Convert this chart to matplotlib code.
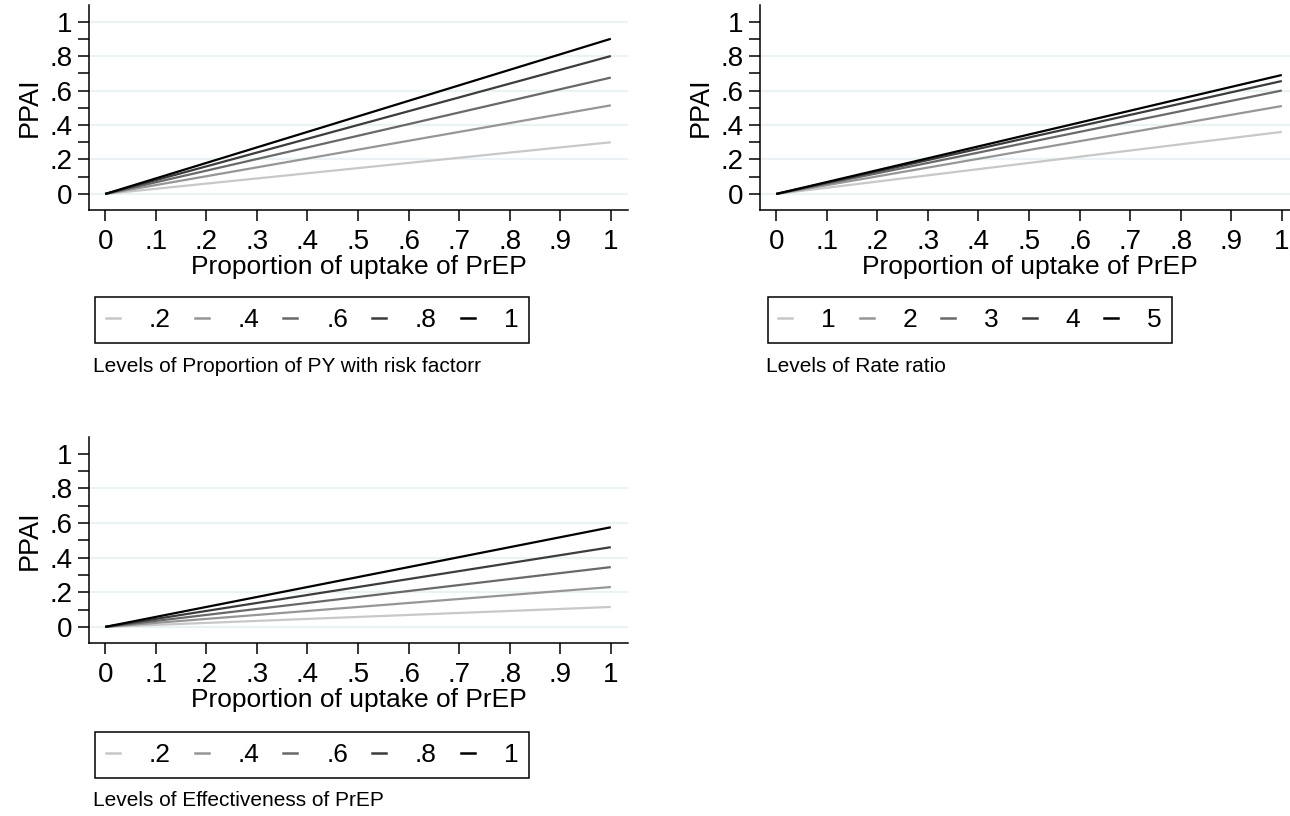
import matplotlib.pyplot as plt
from matplotlib.lines import Line2D

plt.rcParams['font.family'] = ['Liberation Sans', 'DejaVu Sans']

# uptake of PrEP runs from none to full
uptake = [0.0, 1.0]

# PPAI at full uptake for each level of the varied parameter
risk_levels = ['.2', '.4', '.6', '.8', '1']
ppai_risk = [0.30, 0.514, 0.675, 0.80, 0.90]

rr_levels = ['1', '2', '3', '4', '5']
ppai_rr = [0.36, 0.51, 0.60, 0.655, 0.69]

eff_levels = ['.2', '.4', '.6', '.8', '1']
ppai_eff = [0.115, 0.23, 0.345, 0.46, 0.575]

x_ticks = [0, .1, .2, .3, .4, .5, .6, .7, .8, .9, 1]
x_labels = ['0', '.1', '.2', '.3', '.4', '.5', '.6', '.7', '.8', '.9', '1']
y_ticks = [0, .2, .4, .6, .8, 1]
y_labels = ['0', '.2', '.4', '.6', '.8', '1']
y_minor = [.1, .3, .5, .7, .9]

greys = ['#c8c8c8', '#969696', '#696969', '#3c3c3c', '#000000']

W, H = 1290, 816
fig = plt.figure(figsize=(W / 100, H / 100), dpi=100)


def panel(left, top, right, bottom, ends, levels, grid, legend_box, note, note_xy):
    ax = fig.add_axes([left / W, 1 - bottom / H, (right - left) / W, (bottom - top) / H])
    ax.set_xlim(-0.032, 1.034)
    ax.set_ylim(-0.093, 1.096)
    for g in grid:
        ax.axhline(g, color='#eaf2f3', lw=1.6, zorder=0)
    for end, c in zip(ends, greys):
        ax.plot(uptake, [0, end], color=c, lw=1.6, solid_capstyle='butt')
    for s in ['top', 'right']:
        ax.spines[s].set_visible(False)
    for s in ['left', 'bottom']:
        ax.spines[s].set_linewidth(1.1)
    ax.set_xticks(x_ticks)
    ax.set_xticklabels(x_labels)
    ax.set_yticks(y_ticks)
    ax.set_yticklabels(y_labels)
    ax.set_yticks(y_minor, minor=True)
    ax.tick_params(axis='both', which='both', length=8, width=1.1, labelsize=20)
    ax.tick_params(axis='x', pad=6)
    ax.tick_params(axis='y', pad=4)
    ax.set_xlabel('Proportion of uptake of PrEP', fontsize=19, labelpad=0)
    ax.set_ylabel('PPAI', fontsize=19.5, labelpad=5)

    handles = [Line2D([], [], color=c, lw=1.8) for c in greys]
    cx, cy = legend_box
    fig.legend(handles, levels, ncol=5, loc='center',
               bbox_to_anchor=(cx / W, 1 - cy / H), fontsize=19,
               frameon=True, fancybox=False, edgecolor='black', framealpha=1,
               handlelength=0.53, handletextpad=1.1, columnspacing=0.9,
               borderpad=0.4).get_frame().set_linewidth(1.1)
    fig.text(note_xy[0] / W, 1 - note_xy[1] / H, note, fontsize=15,
             ha='left', va='center')
    return ax


panel(89, 5, 628, 210, ppai_risk, risk_levels, y_ticks, (312, 320),
      'Levels of Proportion of PY with risk factorr', (93, 367))
panel(760, 5, 1299, 210, ppai_rr, rr_levels, y_ticks[:-1], (970, 320),
      'Levels of Rate ratio', (766, 367))
panel(89, 437, 628, 643, ppai_eff, eff_levels, y_ticks[:-1], (312, 755),
      'Levels of Effectiveness of PrEP', (93, 800))

fig.savefig('out.png', dpi=100)
